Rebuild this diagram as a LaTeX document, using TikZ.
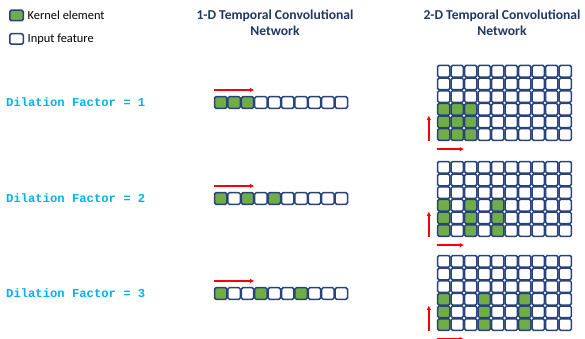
\documentclass[tikz,border=0pt]{standalone}
\usepackage{fontspec}
\setmainfont{Carlito}
\newfontfamily\codefont{Liberation Mono}
\usetikzlibrary{positioning,arrows.meta}
\definecolor{kernelgreen}{RGB}{112,173,71}
\definecolor{cellblue}{RGB}{40,66,122}
\definecolor{titleblue}{RGB}{31,56,100}
\definecolor{dilationcyan}{RGB}{0,176,240}
\tikzset{
  cell/.style={draw=cellblue, line width=1.5pt, rounded corners=1.5pt, fill=white,
    minimum width=12.4pt, minimum height=11.6pt, inner sep=0pt},
  slide/.style={-{Latex[length=4.5pt,width=4.5pt]}, red, line width=1.5pt},
  dilation/.style={font=\codefont\bfseries\fontsize{12.2}{14}\selectfont, text=dilationcyan, anchor=west, inner sep=0pt},
  heading/.style={font=\bfseries\fontsize{13.6}{16}\selectfont, text=titleblue, align=center},
  legend/.style={font=\fontsize{12.4}{14}\selectfont, inner sep=1pt}
}
\begin{document}
\begin{tikzpicture}[x=1pt,y=-1pt]
    \useasboundingbox (0,0) rectangle (585,339);

    \node[cell, fill=kernelgreen, minimum width=13.5pt, minimum height=10.5pt] (kernelkey) at (16.5,15.5) {};
    \node[legend, right=2.5pt of kernelkey] (kernellabel) {Kernel element};
    \node[cell, minimum width=13.5pt, minimum height=10.5pt] (inputkey) at (16.5,39) {};
    \node[legend, right=2.5pt of inputkey] (inputlabel) {Input feature};

    \node[heading] (title1d) at (275,23) {1-D Temporal Convolutional\\Network};
    \node[heading] (title2d) at (502,23) {2-D Temporal Convolutional\\Network};

    \foreach \fac/\ys/\yg in {1/102.5/65, 2/198.5/161, 3/293.5/255} {
        \node[dilation] (dil\fac) at (6,\ys) {Dilation Factor = \fac};

        \foreach \i in {0,...,9} {
            \pgfmathtruncatemacro\iskernel{(\i<=2*\fac) && (mod(\i,\fac)==0)}
            \ifnum\iskernel=1 \def\cellfill{kernelgreen}\else\def\cellfill{white}\fi
            \node[cell, fill=\cellfill] (s\fac-\i) at (220.7+13.4*\i,\ys) {};
        }

        \foreach \j in {0,...,5}
            \foreach \i in {0,...,9} {
                \pgfmathtruncatemacro\iskernel{(\j>=3) && (\i<=2*\fac) && (mod(\i,\fac)==0)}
                \ifnum\iskernel=1 \def\cellfill{kernelgreen}\else\def\cellfill{white}\fi
                \node[cell, fill=\cellfill] (g\fac-\i-\j) at (443.75+13.5*\i,\yg+6.3+12.65*\j) {};
            }

        \draw[slide] ([yshift=6pt]s\fac-0.north west) -- ([yshift=6pt]s\fac-2.north east);
        \draw[slide] ([xshift=-8pt]g\fac-0-5.south west) -- ([xshift=-8pt]g\fac-0-4.north west);
        \draw[slide] ([yshift=-8pt]g\fac-0-5.south west) -- ([yshift=-8pt]g\fac-1-5.south east);
    }
\end{tikzpicture}
\end{document}
